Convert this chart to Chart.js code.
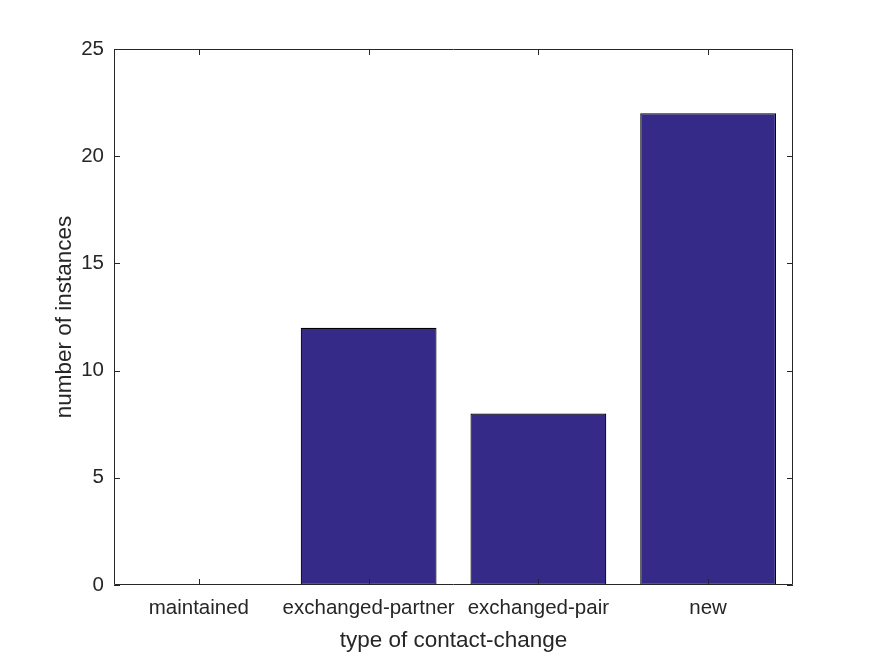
<!DOCTYPE html>
<html>
<head>
<meta charset="utf-8">
<script src="https://cdn.jsdelivr.net/npm/chart.js@4"></script>
<style>
  html, body { margin: 0; padding: 0; background: #fff; }
  canvas { display: block; }
</style>
</head>
<body>
<canvas id="bars" width="875" height="656"></canvas>
<script>
// Data
const categories = ["maintained", "exchanged-partner", "exchanged-pair", "new"];
const counts = [0, 12, 8, 22];
const yTicks = [0, 5, 10, 15, 20, 25];

const axisColor = "#262626";
const font = "'Liberation Sans', Arial, Helvetica, sans-serif";

// box round the plot with inward ticks on all four sides (MATLAB look)
const boxTicks = {
    id: "boxTicks",
    afterDraw(chart) {
        const { ctx, chartArea: a, scales } = chart;
        const len = 6;
        ctx.save();
        ctx.strokeStyle = axisColor;
        ctx.lineWidth = 1;
        ctx.beginPath();
        ctx.rect(a.left + 0.5, a.top + 0.5, a.right - a.left - 1, a.bottom - a.top - 1);
        scales.x.ticks.forEach((t, i) => {
            const x = Math.round(scales.x.getPixelForTick(i)) + 0.5;
            ctx.moveTo(x, a.bottom); ctx.lineTo(x, a.bottom - len);
            ctx.moveTo(x, a.top); ctx.lineTo(x, a.top + len);
        });
        scales.y.ticks.forEach((t, i) => {
            const y = Math.round(scales.y.getPixelForTick(i)) + 0.5;
            ctx.moveTo(a.left, y); ctx.lineTo(a.left + len, y);
            ctx.moveTo(a.right, y); ctx.lineTo(a.right - len, y);
        });
        ctx.stroke();
        ctx.restore();
    },
};

new Chart(document.getElementById("bars"), {
    type: "bar",
    data: {
        labels: categories,
        datasets: [
            {
                data: counts,
                backgroundColor: "#352a87",
                borderColor: "#000",
                borderWidth: 1.2,
                borderSkipped: false,
                categoryPercentage: 0.8,
                barPercentage: 1,
            },
        ],
    },
    options: {
        responsive: false,
        animation: false,
        layout: { padding: { top: 49, right: 82, left: 47, bottom: 0 } },
        plugins: {
            legend: { display: false },
            tooltip: { enabled: false },
        },
        scales: {
            x: {
                grid: { display: false, tickLength: 0 },
                border: { display: false },
                ticks: {
                    color: axisColor,
                    font: { family: font, size: 20.5 },
                    padding: 11,
                    maxRotation: 0,
                    autoSkip: false,
                },
                title: {
                    display: true,
                    text: "type of contact-change",
                    color: axisColor,
                    font: { family: font, size: 22.5 },
                    padding: { top: 0, bottom: 2 },
                },
                afterFit: (s) => { s.height = 71; },
            },
            y: {
                min: 0,
                max: 25,
                afterBuildTicks: (s) => { s.ticks = yTicks.map((v) => ({ value: v })); },
                grid: { display: false, tickLength: 0 },
                border: { display: false },
                ticks: { color: axisColor, font: { family: font, size: 20.5 }, padding: 10 },
                title: {
                    display: true,
                    text: "number of instances",
                    color: axisColor,
                    font: { family: font, size: 22.5 },
                    padding: { top: 4 },
                },
                afterFit: (s) => { s.width = 67; },
            },
        },
    },
    plugins: [boxTicks],
});
</script>
</body>
</html>
